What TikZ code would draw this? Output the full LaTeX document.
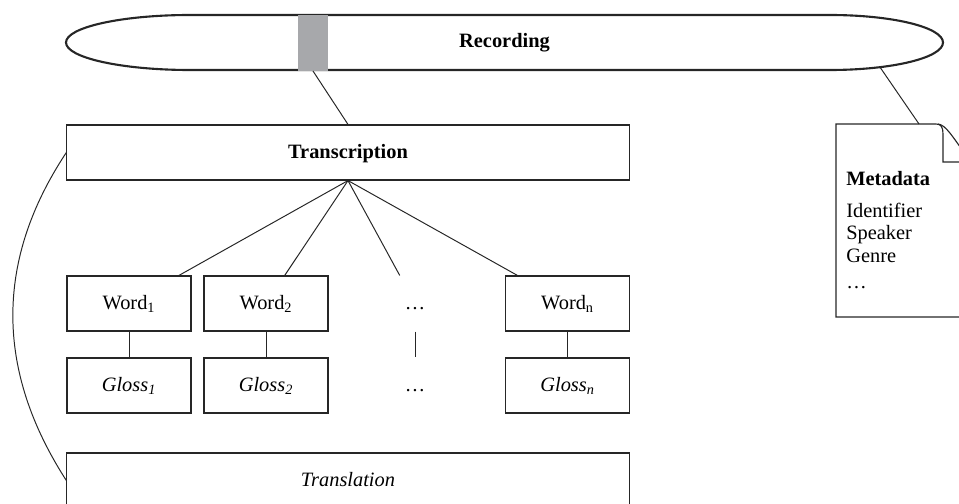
\documentclass[tikz,border=0pt]{standalone}
\usepackage{fontspec}
\setmainfont{Liberation Serif}
\usetikzlibrary{positioning, calc}
\definecolor{segmentgray}{HTML}{A7A8AB}
\definecolor{inkgray}{HTML}{262626}

\tikzset{
  unitbox/.style={draw=inkgray, line width=0.8pt, minimum width=3.1cm, minimum height=1.375cm,
    inner sep=0pt, text height=10pt, text depth=1pt, font=\fontsize{14.5}{16}\selectfont},
  tierbox/.style={unitbox, minimum width=14.05cm},
  gapbox/.style={unitbox, draw=none},
  link/.style={draw=inkgray, line width=0.7pt}
}

\begin{document}
\begin{tikzpicture}[x=0.025cm, y=-0.025cm]
  \useasboundingbox (0,0) rectangle (959,504);
  \clip (0,0) rectangle (959,504);

  % Recording (long cylinder with a selected segment)
  \draw[inkgray, line width=1.5pt] (190,15) -- (830,15)
    arc[start angle=-90, end angle=90, x radius=113, y radius=27.5] -- (190,70)
    arc[start angle=90, end angle=270, x radius=124, y radius=27.5] -- cycle;
  \node[fill=segmentgray, minimum width=0.75cm, minimum height=1.4cm, inner sep=0pt] (seg) at (313,42.75) {};
  \node[font=\fontsize{14.5}{16}\selectfont\bfseries] (rec) at (504.5,42.5) {Recording};

  % Tiers
  \node[tierbox, font=\fontsize{14.5}{16}\selectfont\bfseries] (trans) at (348,152.5) {Transcription};
  \node[tierbox, font=\fontsize{14.5}{16}\selectfont\itshape] (transl) at (348,480.5) {Translation};

  % Words and glosses
  \node[unitbox] (w1) at (129,303.5) {Word\textsubscript{1}};
  \node[unitbox] (w2) at (266,303.5) {Word\textsubscript{2}};
  \node[gapbox] (wd) at (415,303.5) {\ldots};
  \node[unitbox] (wn) at (567.5,303.5) {Word\textsubscript{n}};
  \node[unitbox] (g1) at (129,385.5) {\textit{Gloss\textsubscript{1}}};
  \node[unitbox] (g2) at (266,385.5) {\textit{Gloss\textsubscript{2}}};
  \node[gapbox] (gd) at (415,385.5) {\ldots};
  \node[unitbox] (gn) at (567.5,385.5) {\textit{Gloss\textsubscript{n}}};

  \foreach \i in {1,2,d,n} {
    \draw[link] (trans.south) -- (w\i);
    \draw[link] (w\i) -- (g\i);
  }

  % Bracket from transcription to translation
  \draw[link] (trans.west) .. controls (-5,260) and (-5,370) .. (transl.west);
  \draw[link] (seg.south) -- (trans.north);

  % Metadata document (folded corner)
  \draw[inkgray, line width=0.8pt] (990,317) -- (836,317) -- (836,124) -- (936,124)
    .. controls (941,124) and (943,127) .. (943,134) -- (943,162) -- (990,162);
  \draw[inkgray, line width=0.8pt] (938,124) .. controls (946,125) and (952,136) .. (968,158);
  \node[anchor=north west, align=left, inner sep=0pt, font=\fontsize{14.5}{15.5}\selectfont] (meta) at (846,171)
    {\textbf{Metadata}\\[7pt] Identifier\\[0.5pt] Speaker\\[0.5pt] Genre\\[3pt] \ldots};
  \coordinate (recfoot) at (880,67.2);
  \coordinate (metatop) at (919,124);
  \draw[link] (recfoot) -- (metatop);
\end{tikzpicture}
\end{document}
